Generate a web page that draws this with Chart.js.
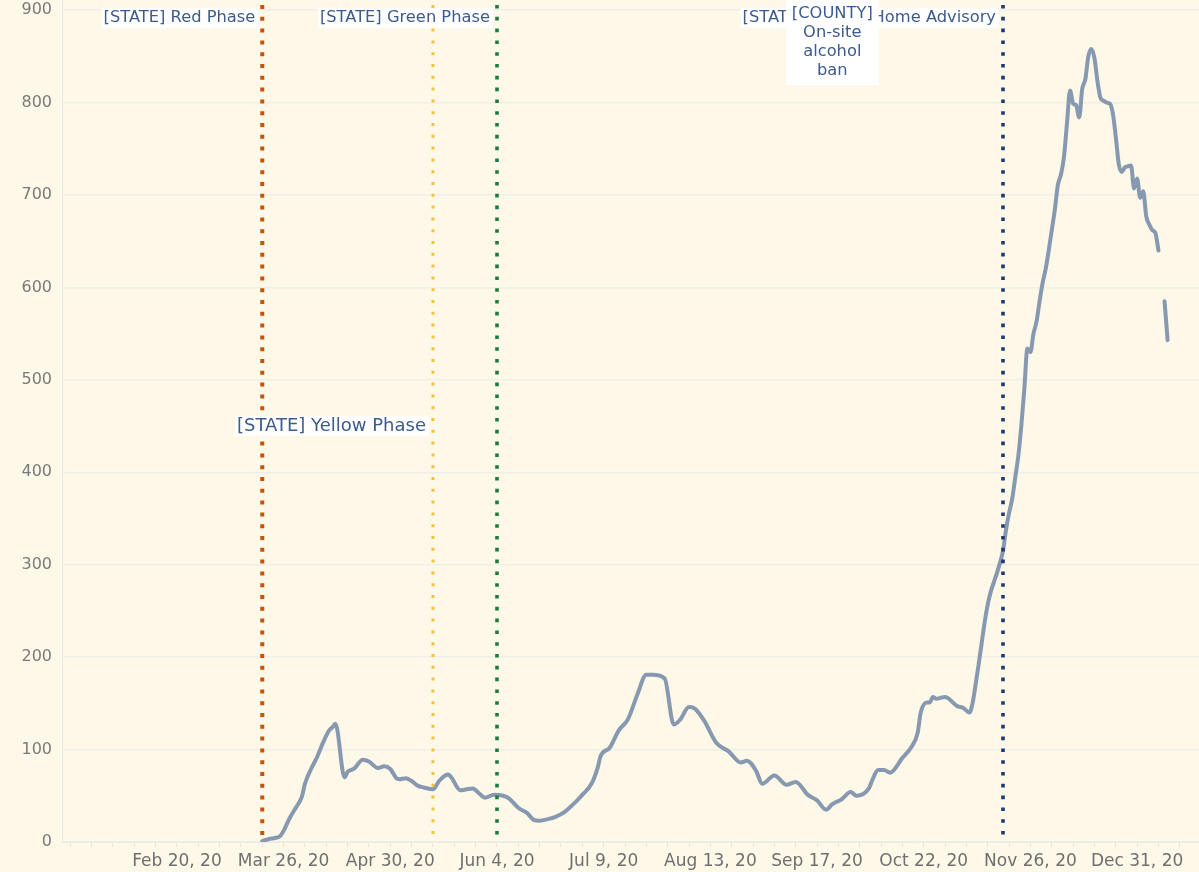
<!DOCTYPE html>
<html>
<head>
<meta charset="utf-8">
<title>Cases</title>
<script src="https://cdn.jsdelivr.net/npm/chart.js@4.4.1/dist/chart.umd.min.js"></script>
<style>
  html, body { margin: 0; padding: 0; background: #fdf8e7; }
  #chart { display: block; }
</style>
</head>
<body>
<canvas id="chart" width="1199" height="872"></canvas>
<script>
// day 0 = Feb 20, 2020
const caseDays = [
  28, 30, 33, 34, 35, 37, 39, 41, 42, 44, 46, 48, 50, 51, 52, 55, 56, 58, 61, 63,
  66, 68, 70, 72, 73, 75, 77, 79, 81, 84, 86, 88, 89, 90, 93, 95, 97, 99, 101, 104,
  107, 109, 112, 115, 117, 119, 122, 124, 127, 131, 133, 136, 138, 139, 142, 145, 148, 151, 154, 156,
  160, 163, 165, 168, 170, 173, 177, 181, 185, 187, 190, 192, 196, 200, 203, 207, 210, 213, 215, 218,
  221, 223, 227, 228, 230, 232, 234, 238, 241, 243, 244, 246, 247, 248, 249, 252, 256, 258, 260, 261,
  262, 263, 264, 265, 266, 267, 268, 269, 270, 271, 272, 273, 274, 275, 276, 277, 278, 279, 280, 281,
  282, 283, 284, 285, 286, 287, 288, 289, 290, 291, 292, 293, 294, 295, 296, 297, 298, 299, 300, 301,
  302, 303, 304, 305, 306, 307, 308, 309, 310, 311, 312, 313, 314, 315, 316, 317, 318, 319, 320, 321,
  322, 323, 324, 325
];
const caseValues = [
  1, 3, 5, 7, 12, 26, 37, 49, 63, 79, 92, 108, 121, 124, 128, 70, 76, 79, 89, 87,
  80, 82, 79, 69, 68, 69, 66, 61, 59, 57, 66, 72, 73, 70, 56, 57, 58, 53, 48, 51,
  50, 47, 37, 31, 24, 23, 25, 27, 32, 44, 51, 63, 80, 93, 102, 121, 133, 159, 181, 181,
  177, 127, 132, 146, 144, 131, 107, 98, 86, 88, 77, 63, 72, 62, 65, 51, 45, 35, 41, 46,
  54, 50, 58, 66, 78, 78, 75, 91, 103, 118, 140, 151, 151, 157, 155, 157, 147, 145, 140, 150,
  170, 192, 215, 238, 257, 271, 281, 291, 302, 315, 338, 356, 371, 394, 417, 450, 490, 534, 530, 550,
  563, 585, 605, 620, 640, 662, 684, 711, 722, 741, 778, 813, 799, 797, 784, 815, 825, 850, 858, 848,
  823, 805, 802, 800, 799, 789, 763, 733, 725, 730, 731, 732, 707, 718, 697, 704, 677, 668, 662, 659,
  640, null, 585, 543
];

const tickDays = [0, 35, 70, 105, 140, 175, 210, 245, 280, 315];
const tickLabels = ['Feb 20, 20', 'Mar 26, 20', 'Apr 30, 20', 'Jun 4, 20', 'Jul 9, 20',
  'Aug 13, 20', 'Sep 17, 20', 'Oct 22, 20', 'Nov 26, 20', 'Dec 31, 20'];
const yTicks = [0, 100, 200, 300, 400, 500, 600, 700, 800, 900];

const eventNames = ['[STATE] Red Phase', '[STATE] Yellow Phase', '[STATE] Green Phase', '[STATE] Stay at Home Advisory'];
const eventDays = [28, 84, 105, 271];
const noteLines = ['[COUNTY]', 'On-site', 'alcohol', 'ban'];
const noteDay = 215;

// styling for the event lines
const eventColors = ['#c85200', '#f2c23e', '#1b7a3e', '#1d3a6e'];
const eventWidths = [4, 3, 3.6, 3.6];
const labelColor = '#3d5b8c';

const eventPlugin = {
  id: 'eventPlugin',
  afterDatasetsDraw(chart) {
    const { ctx, chartArea, scales } = chart;
    const x = scales.x, y = scales.y;
    ctx.save();
    // dotted lines
    eventDays.forEach(function (d, i) {
      const px = x.getPixelForValue(d);
      ctx.beginPath();
      ctx.lineWidth = eventWidths[i];
      ctx.strokeStyle = eventColors[i];
      ctx.setLineDash([eventWidths[i], 11.8 - eventWidths[i]]);
      ctx.moveTo(px, chartArea.top + 5);
      ctx.lineTo(px, chartArea.bottom - 4);
      ctx.stroke();
    });
    ctx.setLineDash([]);

    // labels left of each line (yellow one sits lower and a bit bigger)
    ctx.textBaseline = 'middle';
    eventDays.forEach(function (d, i) {
      ctx.font = i === 1 ? '18px "DejaVu Sans"' : '16.3px "DejaVu Sans"';
      const px = x.getPixelForValue(d);
      const cy = i === 1 ? y.getPixelForValue(450) : chartArea.top + 18;
      const w = ctx.measureText(eventNames[i]).width;
      const right = px - 4;
      ctx.fillStyle = '#ffffff';
      ctx.fillRect(right - w - 5, cy - 10, w + 5, 20);
      ctx.fillStyle = labelColor;
      ctx.textAlign = 'right';
      ctx.fillText(eventNames[i], right - 3, cy);
    });

    // county note box
    ctx.font = '16.3px "DejaVu Sans"';
    const nx = x.getPixelForValue(noteDay);
    let maxW = 0;
    noteLines.forEach(function (t) { maxW = Math.max(maxW, ctx.measureText(t).width); });
    ctx.fillStyle = '#ffffff';
    ctx.fillRect(nx - maxW / 2 - 6, chartArea.top, maxW + 12, 85);
    ctx.fillStyle = labelColor;
    ctx.textAlign = 'center';
    noteLines.forEach(function (t, i) {
      ctx.fillText(t, nx, chartArea.top + 14 + i * 18.8);
    });
    ctx.restore();
  }
};

const points = caseDays.map(function (d, i) { return { x: d, y: caseValues[i] }; });

new Chart(document.getElementById('chart'), {
  type: 'line',
  data: {
    datasets: [{
      data: points,
      borderColor: '#8799b0',
      borderWidth: 4,
      pointRadius: 0,
      cubicInterpolationMode: 'monotone',
      borderCapStyle: 'round',
      borderJoinStyle: 'round',
      spanGaps: false
    }]
  },
  options: {
    responsive: false,
    animation: false,
    devicePixelRatio: 1,
    layout: { padding: 0 },
    plugins: { legend: { display: false }, tooltip: { enabled: false } },
    scales: {
      x: {
        type: 'linear',
        min: -37.7,
        max: 335.3,
        afterBuildTicks: function (scale) {
          const t = [];
          for (let d = -35; d <= 335; d += 7) t.push({ value: d });
          scale.ticks = t;
        },
        afterFit: function (scale) {
          scale.height = 30;
          scale.paddingLeft = 0;
          scale.paddingRight = 0;
        },
        grid: { drawOnChartArea: false, drawTicks: true, tickLength: 5, color: '#e6e4dc' },
        border: { color: '#ebe9e2' },
        ticks: {
          autoSkip: false,
          maxRotation: 0,
          padding: 4,
          color: '#6f6f6f',
          font: { family: 'DejaVu Sans', size: 17 },
          callback: function (v) {
            const i = tickDays.indexOf(v);
            return i >= 0 ? tickLabels[i] : '';
          }
        }
      },
      y: {
        min: 0,
        max: 911,
        afterBuildTicks: function (scale) {
          scale.ticks = yTicks.map(function (v) { return { value: v }; });
        },
        afterFit: function (scale) {
          scale.width = 62;
          scale.paddingTop = 0;
          scale.paddingBottom = 0;
        },
        grid: { color: '#efefea', lineWidth: 1.5, drawTicks: false },
        border: { color: '#ebe9e2' },
        ticks: {
          padding: 10,
          color: '#7a7a7a',
          font: { family: 'DejaVu Sans', size: 16 }
        }
      }
    }
  },
  plugins: [eventPlugin]
});
</script>
</body>
</html>
